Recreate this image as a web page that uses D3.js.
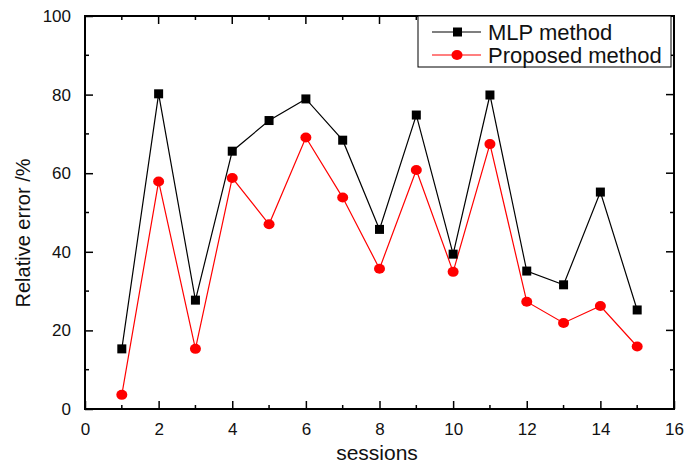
<!DOCTYPE html>
<html>
<head>
<meta charset="utf-8">
<script src="https://cdn.jsdelivr.net/npm/d3@7"></script>
<style>
  body { margin: 0; background: #fff; }
  text { font-family: Arial, "Liberation Sans", sans-serif; }
</style>
</head>
<body>
<div id="chart"></div>
<script>
// Data
var sessions = [1, 2, 3, 4, 5, 6, 7, 8, 9, 10, 11, 12, 13, 14, 15];
var mlpError = [15.3, 80.2, 27.7, 65.6, 73.4, 78.9, 68.4, 45.7, 74.8, 39.4, 79.9, 35.1, 31.6, 55.2, 25.2];
var proposedError = [3.6, 57.9, 15.3, 58.8, 47.0, 69.1, 53.8, 35.7, 60.8, 34.9, 67.4, 27.3, 21.9, 26.2, 15.9];
var xTicks = [0, 2, 4, 6, 8, 10, 12, 14, 16];
var yTicks = [0, 20, 40, 60, 80, 100];
var seriesNames = ["MLP method", "Proposed method"];

var svgWidth = 684;
var svgHeight = 466;

var margin = { top: 16, right: 10, bottom: 57, left: 85 };
var width = svgWidth - margin.left - margin.right;
var height = svgHeight - margin.top - margin.bottom;

var svg = d3.select("#chart")
  .append("svg")
  .attr("width", svgWidth)
  .attr("height", svgHeight);

var chartGroup = svg.append("g")
  .attr("transform", `translate(${margin.left}, ${margin.top})`);

var xScale = d3.scaleLinear().domain([0, 16]).range([0, width]);
var yScale = d3.scaleLinear().domain([0, 100]).range([height, 0]);

var minorX = d3.range(1, 16, 2);
var minorY = d3.range(10, 100, 20);

// Axes with inward ticks
var bottomAxis = d3.axisBottom(xScale).tickValues(xTicks).tickSizeInner(-8).tickSizeOuter(0).tickPadding(14);
var leftAxis = d3.axisLeft(yScale).tickValues(yTicks).tickSizeInner(-8).tickSizeOuter(0).tickPadding(14);

var xAxisG = chartGroup.append("g")
  .attr("transform", `translate(0, ${height})`)
  .call(bottomAxis);
var yAxisG = chartGroup.append("g").call(leftAxis);

[xAxisG, yAxisG].forEach(function(g) {
  g.select(".domain").remove();
  g.selectAll(".tick line").attr("stroke", "#000").attr("stroke-width", 1.5);
  g.selectAll(".tick text")
    .attr("font-size", "17px")
    .attr("fill", "#111")
    .attr("font-family", "Arial, 'Liberation Sans', sans-serif");
});

// Minor ticks and mirror ticks
var tickLayer = chartGroup.append("g").attr("stroke", "#000").attr("stroke-width", 1.5);
xTicks.slice(1, -1).forEach(function(v) {
  tickLayer.append("line").attr("x1", xScale(v)).attr("x2", xScale(v)).attr("y1", 0).attr("y2", 8);
});
minorX.forEach(function(v) {
  tickLayer.append("line").attr("x1", xScale(v)).attr("x2", xScale(v)).attr("y1", height).attr("y2", height - 4);
  tickLayer.append("line").attr("x1", xScale(v)).attr("x2", xScale(v)).attr("y1", 0).attr("y2", 4);
});
yTicks.slice(1, -1).forEach(function(v) {
  tickLayer.append("line").attr("x1", width).attr("x2", width - 8).attr("y1", yScale(v)).attr("y2", yScale(v));
});
minorY.forEach(function(v) {
  tickLayer.append("line").attr("x1", 0).attr("x2", 4).attr("y1", yScale(v)).attr("y2", yScale(v));
  tickLayer.append("line").attr("x1", width).attr("x2", width - 4).attr("y1", yScale(v)).attr("y2", yScale(v));
});

// Frame
chartGroup.append("rect")
  .attr("width", width)
  .attr("height", height)
  .attr("fill", "none")
  .attr("stroke", "#000")
  .attr("stroke-width", 2);

// Lines
var seriesLine = d3.line().x((d, i) => xScale(sessions[i])).y(d => yScale(d));

chartGroup.append("path")
  .datum(mlpError)
  .attr("d", seriesLine)
  .attr("fill", "none")
  .attr("stroke", "#000")
  .attr("stroke-width", 1.2);

chartGroup.append("path")
  .datum(proposedError)
  .attr("d", seriesLine)
  .attr("fill", "none")
  .attr("stroke", "#ff0000")
  .attr("stroke-width", 1.2);

// Markers
chartGroup.selectAll(".mlpMark")
  .data(mlpError)
  .enter()
  .append("rect")
  .attr("class", "mlpMark")
  .attr("x", (d, i) => xScale(sessions[i]) - 4.5)
  .attr("y", d => yScale(d) - 4.5)
  .attr("width", 9)
  .attr("height", 9)
  .attr("fill", "#000");

chartGroup.selectAll(".propMark")
  .data(proposedError)
  .enter()
  .append("ellipse")
  .attr("class", "propMark")
  .attr("cx", (d, i) => xScale(sessions[i]))
  .attr("cy", d => yScale(d))
  .attr("rx", 5.5)
  .attr("ry", 5)
  .attr("fill", "#ff0000");

// Legend
var legend = svg.append("g").attr("transform", "translate(418, 16)");
legend.append("rect")
  .attr("width", 253)
  .attr("height", 51)
  .attr("fill", "#fff")
  .attr("stroke", "#000")
  .attr("stroke-width", 1);

var legendColors = ["#000", "#ff0000"];
seriesNames.forEach(function(name, i) {
  var yy = 16 + i * 23;
  legend.append("line")
    .attr("x1", 14).attr("x2", 63)
    .attr("y1", yy).attr("y2", yy)
    .attr("stroke", legendColors[i])
    .attr("stroke-width", 1.2);
  if (i === 0) {
    legend.append("rect").attr("x", 35).attr("y", yy - 4.5).attr("width", 9).attr("height", 9).attr("fill", "#000");
  } else {
    legend.append("ellipse").attr("cx", 39).attr("cy", yy).attr("rx", 5.5).attr("ry", 5).attr("fill", "#ff0000");
  }
  legend.append("text")
    .attr("x", 70)
    .attr("y", yy + 8)
    .attr("font-size", "22px")
    .attr("fill", "#111")
    .text(name);
});

// Axis labels
chartGroup.append("text")
  .attr("transform", "rotate(-90)")
  .attr("x", -217)
  .attr("y", -margin.left + 30)
  .attr("text-anchor", "middle")
  .attr("font-size", "20px")
  .attr("fill", "#111")
  .text("Relative error /%");

chartGroup.append("text")
  .attr("x", 377 - margin.left)
  .attr("y", height + 51)
  .attr("text-anchor", "middle")
  .attr("font-size", "21px")
  .attr("fill", "#111")
  .text("sessions");
</script>
</body>
</html>
